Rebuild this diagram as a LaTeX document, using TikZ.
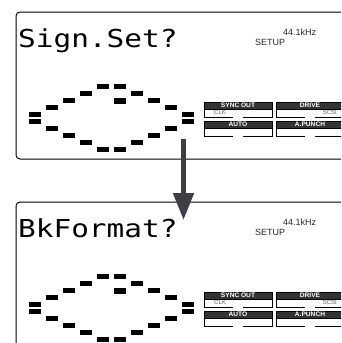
\documentclass[tikz,border=0pt]{standalone}
\usepackage{fontspec}
\setmainfont{Liberation Sans}
\newfontfamily\lcdfont[FakeStretch=1.19]{DejaVu Sans Mono}
\usetikzlibrary{arrows.meta}

\definecolor{hdrgray}{RGB}{51,51,51}
\definecolor{subgray}{RGB}{95,95,95}
\definecolor{statgray}{RGB}{40,40,40}
\definecolor{arrgray}{RGB}{62,62,68}

\tikzset{
  lcdseg/.style={fill=black},
  frame/.style={line width=1pt, rounded corners=4pt},
  hdrbox/.style={fill=hdrgray, draw=black, line width=0.7pt},
  hdrtxt/.style={text=white, inner sep=0pt, font=\bfseries\fontsize{6.6}{6.6}\selectfont},
  subtxt/.style={text=subgray, inner sep=0pt, font=\fontsize{6}{6}\selectfont},
  stattxt/.style={text=statgray, inner sep=0pt, font=\fontsize{9}{9}\selectfont},
  lcdtxt/.style={inner sep=0pt, font=\lcdfont\fontsize{24.7}{24.7}\selectfont},
}

\begin{document}
\begin{tikzpicture}[x=1pt,y=-1pt]
    \useasboundingbox (0,0) rectangle (341,343);
    \clip (0,0) rectangle (341,343);

    \foreach \ttl/\dy/\n in {Sign.Set?/0/a,BkFormat?/190/b} {
      \begin{scope}[shift={(0,\dy)}]
        % Drawing the display frame
        \draw[frame] (16,12) rectangle (370,159);

        % Title and status line
        \node[lcdtxt, anchor=base west] (title-\n) at (18,47) {\ttl};
        \node[stattxt, anchor=base west] (setup-\n) at (255,45) {SETUP};
        \node[stattxt, anchor=base west] (rate-\n) at (283,35) {44.1kHz};

        % Drawing the segment ring
        \foreach \i/\k in {1/1,2/2,3/3,4/4,5/4,6/3,7/2,8/1} {
          \pgfmathsetmacro\cx{35+17*\i}
          \pgfmathsetmacro\up{114.5-7*\k}
          \pgfmathsetmacro\dn{121.5+7*\k}
          \fill[lcdseg] (\cx-5.75,\up-2.9) rectangle ++(11.5,5.8);
          \fill[lcdseg] (\cx-5.75,\dn-2.9) rectangle ++(11.5,5.8);
        }
        \foreach \cx in {35,188} {
          \fill[lcdseg] (\cx-5.75,111.8) rectangle ++(11.5,5.3);
          \fill[lcdseg] (\cx-5.75,118.7) rectangle ++(11.5,5.3);
        }
        \fill[lcdseg] (114.25,98.3) rectangle ++(11.5,5.8);

        % Status blocks
        \foreach \bx/\by/\hd [count=\c] in {204/102/SYNC OUT,276/102/DRIVE,204/121/AUTO,276/121/A.PUNCH} {
          \draw[hdrbox] (\bx,\by) rectangle ++(68,7);
          \node[hdrtxt] (hdr-\n-\c) at (\bx+34,\by+3.6) {\hd};
          \draw[line width=0.6pt] (\bx,\by+7) -- (\bx,\by+15) -- (\bx+29,\by+15);
          \draw[line width=0.6pt] (\bx+39,\by+15) -- (\bx+68,\by+15) -- (\bx+68,\by+7);
        }
        \node[subtxt, anchor=base west] (clk-\n) at (214,114.8) {CLK};
        \node[subtxt, anchor=base east] (scsi-\n) at (337,114.8) {SCSI};
      \end{scope}
    }

    % Arrow between the displays
    \coordinate (arrfrom) at (183.5,139);
    \coordinate (arrto) at (183.5,220);
    \draw[arrgray, line width=5pt, -{Triangle[width=20pt,length=27pt]}] (arrfrom) -- (arrto);
\end{tikzpicture}
\end{document}
